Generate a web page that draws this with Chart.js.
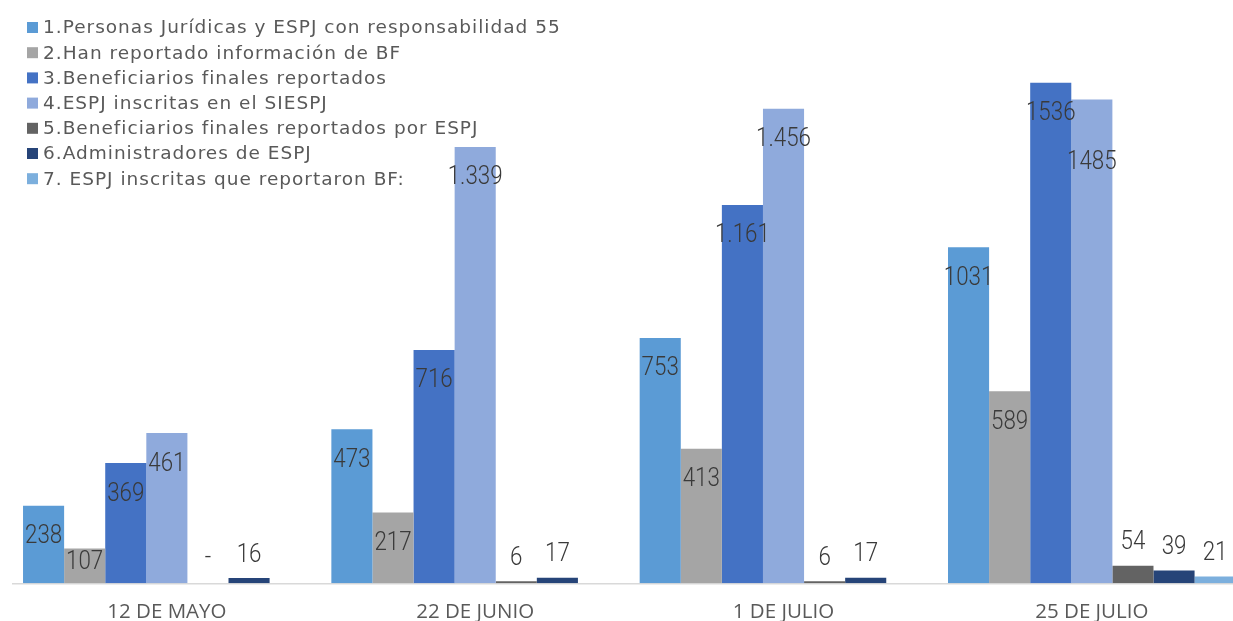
<!DOCTYPE html>
<html>
<head>
<meta charset="utf-8">
<script src="https://cdn.jsdelivr.net/npm/chart.js@4"></script>
<style>
  html, body { margin: 0; padding: 0; background: #ffffff; overflow: hidden; }
  #wrap { position: relative; width: 1246px; height: 621px; }
</style>
</head>
<body>
<div id="wrap"><canvas id="c"></canvas></div>
<script>
// ---- data ----
const categories = ['12 DE MAYO', '22 DE JUNIO', '1 DE JULIO', '25 DE JULIO'];
const seriesNames = [
  '1.Personas Jurídicas y ESPJ con responsabilidad 55',
  '2.Han reportado información de BF',
  '3.Beneficiarios finales reportados',
  '4.ESPJ inscritas en el SIESPJ',
  '5.Beneficiarios finales reportados por ESPJ',
  '6.Administradores de ESPJ',
  '7. ESPJ inscritas que reportaron BF:'
];
const personasJuridicas   = [238, 473, 753, 1031];
const reportadoBF         = [107, 217, 413, 589];
const beneficiarios       = [369, 716, 1161, 1536];
const espjInscritas       = [461, 1339, 1456, 1485];
const beneficiariosESPJ   = [0, 6, 6, 54];
const administradoresESPJ = [16, 17, 17, 39];
const espjReportaronBF    = [null, null, null, 21];
const thousandsDot        = [true, true, true, false];

const seriesValues = [personasJuridicas, reportadoBF, beneficiarios, espjInscritas,
                      beneficiariosESPJ, administradoresESPJ, espjReportaronBF];
const seriesColors = ['#5B9BD5', '#A5A5A5', '#4472C4', '#8FAADC', '#636363', '#264478', '#7CAFDD'];

function formatValue(v, j) {
  if (v === 0) return '-';
  let s = String(v);
  if (thousandsDot[j] && v >= 1000) s = s.replace(/\B(?=(\d{3})+(?!\d))/g, '.');
  return s;
}

const LABEL_SQUEEZE = 0.86;
const labelPlugin = {
  id: 'valueLabels',
  afterDatasetsDraw(chart) {
    const ctx = chart.ctx;
    ctx.save();
    ctx.font = '300 26px Roboto, "Liberation Sans", sans-serif';
    ctx.fillStyle = '#3A3A3A';
    ctx.textAlign = 'center';
    ctx.textBaseline = 'middle';
    const placed = categories.map(() => []);
    chart.data.datasets.forEach((ds, i) => {
      const meta = chart.getDatasetMeta(i);
      meta.data.forEach((el, j) => {
        const v = ds.data[j];
        if (v === null || v === undefined) return;
        const txt = formatValue(v, j);
        const w = ctx.measureText(txt).width * LABEL_SQUEEZE;
        let y;
        if (v < 100) y = Math.min(el.y - 26, el.base - 28);
        else y = Math.min(el.y + 28, el.base - 24);
        for (const p of placed[j]) {
          if (Math.abs(p.x - el.x) < (p.w + w) / 2 && Math.abs(p.y - y) < 30) y = p.y + 49;
        }
        placed[j].push({ x: el.x, y: y, w: w });
        ctx.save();
        ctx.translate(el.x, y + 3);
        ctx.scale(LABEL_SQUEEZE, 1);
        ctx.fillText(txt, 0, 0);
        ctx.restore();
      });
    });
    ctx.restore();
  }
};

const legendPlugin = {
  id: 'sideLegend',
  afterDraw(chart) {
    const ctx = chart.ctx;
    ctx.save();
    ctx.font = '18.5px "DejaVu Sans", sans-serif';
    ctx.letterSpacing = '1px';
    ctx.textAlign = 'left';
    ctx.textBaseline = 'middle';
    chart.data.datasets.forEach((ds, i) => {
      const y = 27.5 + i * 25.2;
      ctx.fillStyle = ds.backgroundColor;
      ctx.fillRect(27, y - 5.5, 11, 11);
      ctx.fillStyle = '#595959';
      ctx.fillText(ds.label, 43, y + 1);
    });
    ctx.restore();
  }
};

new Chart(document.getElementById('c'), {
  type: 'bar',
  data: {
    labels: categories,
    datasets: seriesNames.map((name, i) => ({
      label: name,
      data: seriesValues[i],
      backgroundColor: seriesColors[i],
      borderWidth: 0,
      categoryPercentage: 0.933,
      barPercentage: 1.0
    }))
  },
  options: {
    responsive: true,
    maintainAspectRatio: false,
    animation: false,
    layout: { padding: { left: 12.7, right: 0, top: 0, bottom: 0 } },
    plugins: { legend: { display: false }, tooltip: { enabled: false } },
    scales: {
      x: {
        grid: { display: false, drawTicks: false },
        border: { display: true, color: '#D9D9D9', width: 1.5 },
        afterFit(scale) { scale.height = 37.7; },
        ticks: {
          color: '#595959',
          padding: 17,
          font: { family: '"Open Sans", sans-serif', size: 20.5 }
        }
      },
      y: { display: false, min: 0, max: 1790 }
    }
  },
  plugins: [labelPlugin, legendPlugin]
});
</script>
</body>
</html>
